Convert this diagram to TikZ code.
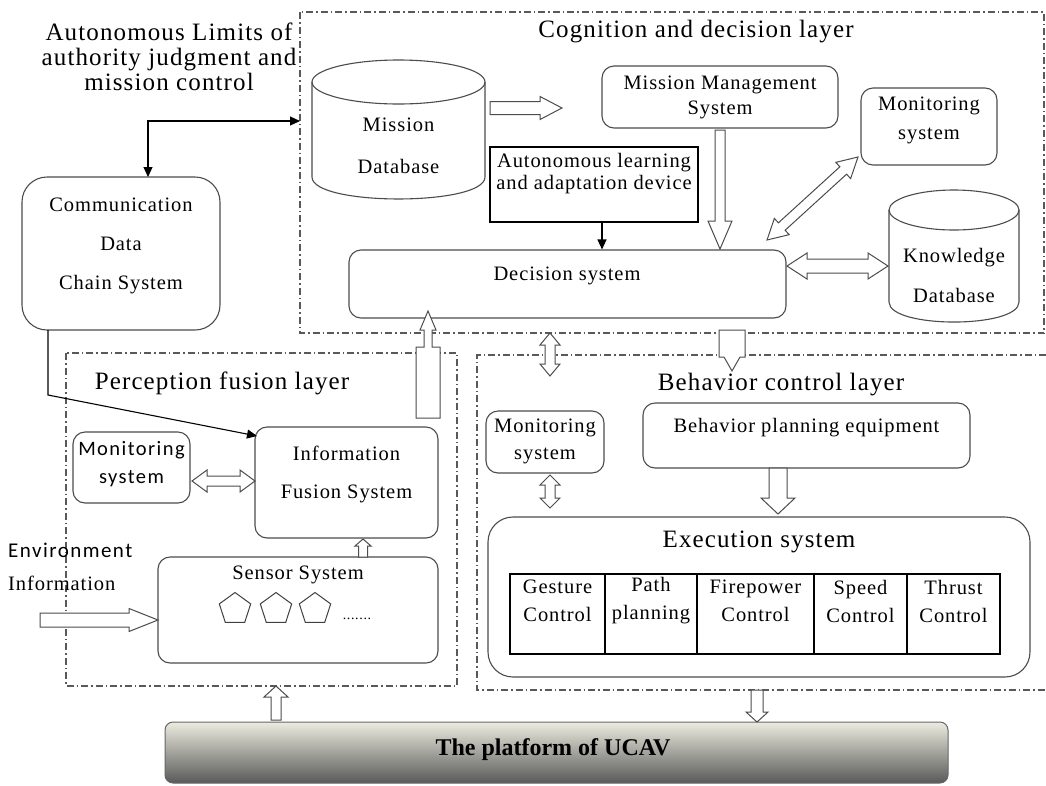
\documentclass[tikz,border=0pt]{standalone}
\usepackage{fontspec}
\setmainfont{Liberation Serif}
\newfontfamily\lsserif[LetterSpace=4.5]{Liberation Serif}
\newfontfamily\lssans[LetterSpace=7]{Carlito}
\newfontfamily\platfont{Liberation Serif}
\usetikzlibrary{calc,arrows.meta,shapes.geometric}

\newcommand\ttlfont{\lsserif\fontsize{25}{25}\selectfont}
\newcommand\bodyfont[1]{\lsserif\fontsize{20.5}{#1}\selectfont}

\tikzset{
  layer/.style={draw=black!65, line width=1.4pt, dash pattern=on 7pt off 3pt on 1.5pt off 3pt},
  rbox/.style={draw=black!70, line width=1.1pt, rounded corners=12pt, fill=white, inner sep=0pt},
  sbox/.style={draw=black, line width=1.1pt, inner sep=0pt},
  cyl/.style={draw=black!70, line width=1.1pt},
  hollow/.style={draw=black!70, line width=1pt, fill=white, line join=miter},
  wire/.style={draw=black, line width=1.1pt},
  tip/.style={-{Triangle[length=10pt,width=9pt]}},
  txt/.style={inner sep=0pt, align=center},
}

% single hollow block arrow: start, tip, shaft half width, head half width, head length
\newcommand\harrow[5]{%
  \path (#1) coordinate (hA) (#2) coordinate (hB);
  \path ($(hB)!#5!(hA)$) coordinate (hH);
  \draw[hollow] ($(hA)!#3!90:(hB)$) -- ($(hH)!#3!90:(hB)$) -- ($(hH)!#4!90:(hB)$)
    -- (hB) -- ($(hH)!#4!-90:(hB)$) -- ($(hH)!#3!-90:(hB)$) -- ($(hA)!#3!-90:(hB)$) -- cycle;
}
% double hollow block arrow
\newcommand\hdarrow[5]{%
  \path (#1) coordinate (hA) (#2) coordinate (hB);
  \path ($(hB)!#5!(hA)$) coordinate (hH) ($(hA)!#5!(hB)$) coordinate (hG);
  \draw[hollow] (hA) -- ($(hG)!#4!90:(hB)$) -- ($(hG)!#3!90:(hB)$) -- ($(hH)!#3!90:(hB)$)
    -- ($(hH)!#4!90:(hB)$) -- (hB) -- ($(hH)!#4!-90:(hB)$) -- ($(hH)!#3!-90:(hB)$)
    -- ($(hG)!#3!-90:(hB)$) -- ($(hG)!#4!-90:(hB)$) -- cycle;
}

\begin{document}
\begin{tikzpicture}[x=1pt,y=-1pt]
\useasboundingbox (0,0) rectangle (1046,785);
\fill[white] (0,0) rectangle (1046,785);

% layer frames
\draw[layer] (300,12) rectangle (1044,333);
\draw[layer] (66,353) rectangle (457,686);
\draw[layer] (1046,355) -- (477,355) -- (477,690) -- (1046,690);

% titles
\node[txt,font=\ttlfont] (auth) at (169,57) {Autonomous Limits of\\authority judgment and\\mission control};
\node[txt,font=\ttlfont] (cogt) at (696,32) {Cognition and decision layer};
\node[txt,font=\ttlfont] (perct) at (222,383) {Perception fusion layer};
\node[txt,font=\ttlfont] (beht) at (781,385) {Behavior control layer};

% ---------- cognition and decision layer ----------
% mission database
\node[inner sep=0pt, minimum width=173pt, minimum height=139pt] (mdb) at (398.5,129.5) {};
\draw[cyl] (312,82) -- (312,177) .. controls (312,206.3) and (485,206.3) .. (485,177) -- (485,82);
\draw[cyl] (398.5,82) ellipse [x radius=86.5pt, y radius=22pt];
\node[txt,font=\bodyfont{42}] (mdbt) at (398.5,146) {Mission\\Database};

\node[rbox, minimum width=236pt, minimum height=62pt] (mms) at (720,97) {};
\node[txt,font=\bodyfont{25}] (mmst) at (720,97) {Mission Management\\System};

\node[sbox, minimum width=208pt, minimum height=75pt] (alad) at (594,184.5) {};
\node[txt,font=\bodyfont{22}] (aladt) at (594,174) {Autonomous learning\\and adaptation device};

\node[rbox, minimum width=437pt, minimum height=68pt] (dec) at (567.5,284) {};
\node[txt,font=\bodyfont{22}] (dect) at (567,276) {Decision system};

\node[rbox, minimum width=136pt, minimum height=77pt] (mon1) at (929,126.5) {};
\node[txt,font=\bodyfont{29}] (mon1t) at (929,120.5) {Monitoring\\system};

% knowledge database
\node[inner sep=0pt, minimum width=130pt, minimum height=132pt] (kdb) at (954,256) {};
\draw[cyl] (889,210) -- (889,302) .. controls (889,328.7) and (1019,328.7) .. (1019,302) -- (1019,210);
\draw[cyl] (954,210) ellipse [x radius=65pt, y radius=20pt];
\node[txt,font=\bodyfont{40}] (kdbt) at (954,275) {Knowledge\\Database};

% ---------- communication ----------
\node[rbox, rounded corners=25pt, minimum width=198pt, minimum height=153pt] (comm) at (121,253.5) {};
\node[txt,font=\bodyfont{39}] (commt) at (121,246) {Communication\\Data\\Chain System};

% ---------- perception fusion layer ----------
\node[rbox, minimum width=117pt, minimum height=71pt] (mon2) at (131.5,467.5) {};
\node[txt,font=\lssans\fontsize{20.5}{28}\selectfont] (mon2t) at (131.5,464) {Monitoring\\system};

\node[rbox, minimum width=183pt, minimum height=111pt] (fus) at (346.5,482.5) {};
\node[txt,font=\bodyfont{38}] (fust) at (346.5,474) {Information\\Fusion System};

\node[rbox, minimum width=280pt, minimum height=106pt] (sens) at (298,610) {};
\node[txt,font=\bodyfont{22}] (senst) at (298,575) {Sensor System};
\foreach \i/\x in {1/235,2/276,3/315}
  \node[regular polygon, regular polygon sides=5, draw=black!75, line width=1pt, minimum size=33pt, inner sep=0pt] (pent\i) at (\x,609) {};
\node[txt,font=\lsserif\fontsize{14}{16}\selectfont] (dots) at (357,619) {.......};

\node[anchor=west,inner sep=0pt,font=\lssans\fontsize{21}{24}\selectfont] (envt) at (8,550) {Environment};
\node[anchor=west,inner sep=0pt,font=\bodyfont{22}] (inft) at (8,583) {Information};

% ---------- behavior control layer ----------
\node[rbox, minimum width=118pt, minimum height=62pt] (mon3) at (545,442) {};
\node[txt,font=\bodyfont{27}] (mon3t) at (545,441) {Monitoring\\system};

\node[rbox, minimum width=327pt, minimum height=65pt] (bpe) at (806.5,435.5) {};
\node[txt,font=\bodyfont{22}] (bpet) at (806.5,428) {Behavior planning equipment};

\node[rbox, rounded corners=25pt, minimum width=542pt, minimum height=160pt] (exec) at (759,597) {};
\node[txt,font=\ttlfont] (exect) at (759,542) {Execution system};

\foreach \i/\xa/\xb/\t in {1/510/605/{Gesture\\Control},2/605/697/{Path\\planning},
    3/697/814/{Firepower\\Control},4/814/907/{Speed\\Control},5/907/1000/{Thrust\\Control}}{
  \draw[sbox] (\xa,574) rectangle (\xb,654);
  \node[txt,font=\bodyfont{28}] (cell\i) at ({(\xa+\xb)/2},601) {\t};
}

% ---------- platform ----------
\node[draw=black!60, line width=1pt, rounded corners=8pt, top color=black!8!white!95!yellow, bottom color=black!65,
      minimum width=783pt, minimum height=61pt, inner sep=0pt] (plat) at (556.5,752.5) {};
\node[txt,font=\platfont\bfseries\fontsize{24}{28}\selectfont] (platt) at (553,750) {The platform of UCAV};

% ---------- thin connectors ----------
\coordinate (commtop) at (148,177);
\coordinate (cogin) at (300,121);
\draw[wire, {Triangle[length=10pt,width=9pt]}-{Triangle[length=10pt,width=9pt]}] (commtop) |- (cogin);
\coordinate (aladout) at (602,222);
\draw[wire, tip] (aladout) -- (aladout |- dec.north);
\coordinate (commout) at (48,330);
\coordinate (fusin) at (257,436);
\draw[wire, tip] (commout) -- (48,395) -- (fusin);

% ---------- block arrows ----------
\harrow{490,108}{562,108}{6.5pt}{11.5pt}{22pt}
\harrow{720,130}{720,249}{5pt}{12pt}{28pt}
\hdarrow{767,240}{858,157}{5pt}{11pt}{20pt}
\hdarrow{787,266}{888,266}{7pt}{13pt}{20pt}
\hdarrow{550,333}{550,376}{5pt}{10pt}{12pt}
\hdarrow{192,481}{255,481}{5pt}{11pt}{15pt}
\harrow{363,557}{363,539}{4.5pt}{8pt}{7pt}
\harrow{40,620}{158,620}{7pt}{11.5pt}{29pt}
\harrow{778,468}{778,514}{9pt}{17pt}{16pt}
\hdarrow{550,475}{550,508}{5pt}{10pt}{10pt}
\harrow{276,720}{276,686}{5pt}{12pt}{11pt}
\harrow{757,690}{757,722}{6pt}{11pt}{10pt}
% feed from perception up into the decision system
\draw[hollow] (416,418) -- (440,418) -- (440,347) -- (432,347) -- (432,330) -- (436,330) -- (428,311)
  -- (420,330) -- (424,330) -- (424,347) -- (416,347) -- cycle;
% decision output down into the behavior layer
\draw[hollow] (719,330) -- (745,330) -- (745,357) -- (740,357) -- (732,371) -- (724,357) -- (719,357) -- cycle;
\end{tikzpicture}
\end{document}
